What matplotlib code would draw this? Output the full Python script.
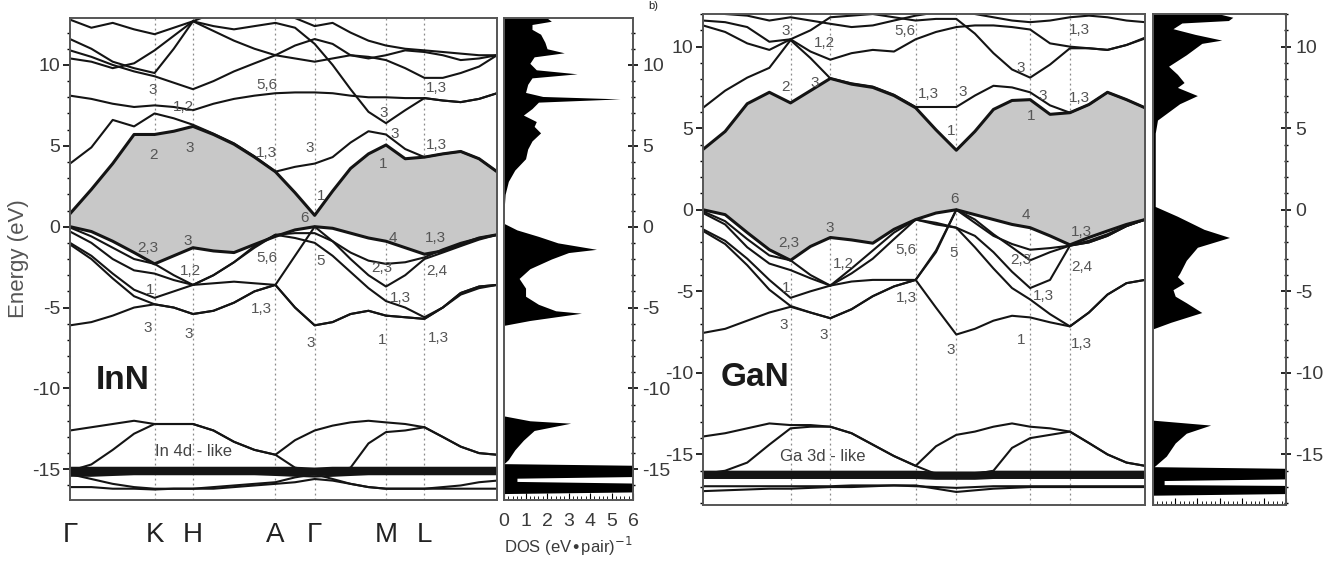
import matplotlib
matplotlib.use("Agg")
import matplotlib.pyplot as plt
from matplotlib import font_manager
from matplotlib.ticker import FixedLocator, MultipleLocator

names = {f.name for f in font_manager.fontManager.ttflist}
narrow = "Liberation Sans Narrow" if "Liberation Sans Narrow" in names else "Liberation Sans"
plt.rcParams["font.family"] = [narrow, "DejaVu Sans"]

# k path (fraction of the path length)
k = [0.0, 0.05, 0.10, 0.15, 0.198, 0.243, 0.288, 0.336, 0.384, 0.432, 0.481, 0.527,
     0.573, 0.615, 0.657, 0.699, 0.740, 0.785, 0.830, 0.873, 0.915, 0.958, 1.0]
sym_k = [0.0, 0.198, 0.288, 0.481, 0.573, 0.740, 0.830]
sym_labels = ["Γ", "K", "H", "A", "Γ", "M", "L"]

# ---- InN bands (eV) ----
inn_v1 = [0.0, -0.3, -0.9, -1.6, -2.3, -1.8, -1.3, -1.5, -1.6, -1.1, -0.6, -0.2, 0.0, -0.1, -0.4, -0.7, -0.9, -1.3, -1.7, -1.5, -1.1, -0.7, -0.5]
inn_v2 = [-0.05, -0.6, -1.3, -2.0, -2.3, -3.0, -3.6, -3.0, -2.2, -1.2, -0.5, -0.4, -0.4, -0.9, -1.6, -2.1, -2.3, -2.2, -1.9, -1.4, -1.0, -0.7, -0.5]
inn_v3 = [-0.3, -1.0, -2.0, -2.7, -2.9, -3.3, -3.6, -3.5, -3.4, -3.5, -3.6, -1.8, 0.0, -0.9, -2.0, -3.0, -3.7, -3.0, -2.0, -1.6, -1.2, -0.8, -0.5]
inn_v4 = [-1.0, -1.8, -2.9, -3.9, -4.4, -4.0, -3.6, -3.0, -2.2, -1.3, -0.5, -0.7, -1.0, -1.8, -2.8, -3.8, -4.6, -5.0, -5.6, -5.0, -4.2, -3.8, -3.6]
inn_v5 = [-6.1, -5.9, -5.5, -5.0, -4.8, -5.0, -5.4, -5.2, -4.7, -4.0, -3.6, -5.0, -6.1, -5.9, -5.4, -5.2, -5.5, -5.6, -5.7, -5.0, -4.1, -3.7, -3.6]
inn_v6 = [-1.1, -2.0, -3.2, -4.3, -4.8, -5.0, -5.4, -5.2, -4.7, -4.0, -3.6, -5.0, -6.1, -5.9, -5.4, -5.2, -5.5, -5.6, -5.7, -5.0, -4.1, -3.7, -3.6]
inn_c1 = [0.8, 2.3, 3.9, 5.7, 5.7, 5.9, 6.2, 5.7, 5.1, 4.3, 3.4, 2.1, 0.7, 2.2, 3.6, 4.5, 5.05, 4.2, 4.3, 4.5, 4.65, 4.2, 3.4]
inn_c2 = [3.9, 4.9, 6.6, 6.2, 7.0, 6.7, 6.3, 5.75, 5.15, 4.35, 3.4, 3.7, 3.9, 4.3, 5.2, 5.9, 5.7, 4.8, 4.3, 4.5, 4.65, 4.2, 3.4]
inn_c3 = [8.1, 7.9, 7.6, 7.4, 7.5, 7.4, 7.2, 7.6, 7.9, 8.1, 8.25, 8.3, 8.3, 8.25, 8.1, 8.0, 8.0, 7.95, 7.95, 7.8, 7.7, 7.9, 8.25]
inn_c4 = [10.9, 10.5, 10.0, 9.6, 9.3, 8.9, 8.5, 9.0, 9.6, 10.1, 10.6, 10.4, 10.2, 10.4, 10.6, 10.5, 10.3, 9.8, 9.2, 9.2, 9.5, 9.9, 10.6]
inn_c5 = [11.6, 11.0, 10.2, 9.8, 9.5, 11.0, 12.7, 12.1, 11.5, 11.0, 10.6, 11.2, 11.6, 11.3, 10.6, 10.4, 10.6, 10.9, 10.8, 10.6, 10.3, 10.4, 10.6]
inn_c6 = [10.4, 10.2, 9.8, 10.1, 10.9, 11.8, 12.7, 12.4, 12.2, 12.4, 12.6, 12.3, 11.3, 10.0, 8.5, 7.1, 6.4, 7.2, 7.95, 7.8, 7.7, 7.9, 8.25]
inn_c7 = [12.8, 12.3, 12.6, 12.2, 11.9, 12.3, 12.7, 13.2, 13.5, 13.5, 13.3, 12.9, 12.4, 12.6, 12.0, 11.5, 11.2, 11.0, 10.9, 10.8, 10.7, 10.6, 10.6]
inn_d1 = [-12.6, -12.4, -12.2, -12.0, -12.2, -12.2, -12.2, -12.6, -13.3, -13.8, -14.1, -13.2, -12.6, -12.3, -12.1, -12.0, -12.1, -12.2, -12.4, -13.0, -13.6, -14.0, -14.1]
inn_d2 = [-15.1, -14.7, -13.8, -12.8, -12.2, -12.2, -12.2, -12.6, -13.3, -13.8, -14.1, -14.9, -15.1, -15.1, -14.9, -13.4, -12.7, -12.6, -12.4, -13.0, -13.6, -14.0, -14.1]
inn_d3 = [-15.3, -15.6, -15.9, -16.1, -16.2, -16.2, -16.2, -16.1, -16.0, -15.9, -15.8, -15.5, -15.3, -15.6, -15.9, -16.1, -16.2, -16.2, -16.2, -16.1, -16.0, -15.8, -15.7]
inn_d4 = [-16.1, -16.1, -16.2, -16.2, -16.25, -16.2, -16.2, -16.2, -16.1, -16.0, -15.9, -15.8, -15.6, -15.7, -15.9, -16.1, -16.2, -16.2, -16.2, -16.2, -16.2, -16.2, -16.2]
inn_core = [-15.1, -15.1, -15.1, -15.1, -15.1, -15.1, -15.1, -15.1, -15.1, -15.1, -15.1, -15.1, -15.15, -15.1, -15.1, -15.1, -15.1, -15.1, -15.1, -15.1, -15.1, -15.1, -15.1]
inn_core2 = [-15.4, -15.4, -15.35, -15.3, -15.3, -15.3, -15.3, -15.3, -15.3, -15.3, -15.35, -15.4, -15.45, -15.4, -15.35, -15.3, -15.3, -15.3, -15.3, -15.3, -15.3, -15.3, -15.3]

inn_label_text = ["3", "1,2", "5,6", "2", "3", "1,3", "3", "1", "6", "3", "3", "1,3", "1,3", "1",
                  "2,3", "3", "1,2", "1", "5,6", "5", "4", "1,3", "2,3", "2,4", "1,3", "1,3",
                  "3", "3", "3", "1", "1,3"]
inn_label_k = [0.193, 0.265, 0.46, 0.195, 0.281, 0.46, 0.562, 0.589, 0.549, 0.734, 0.761, 0.859, 0.859, 0.734,
               0.183, 0.276, 0.281, 0.187, 0.46, 0.588, 0.757, 0.855, 0.73, 0.859, 0.773, 0.449,
               0.183, 0.279, 0.564, 0.73, 0.863]
inn_label_e = [8.45, 7.4, 8.75, 4.45, 4.85, 4.55, 4.85, 1.9, 0.55, 7.0, 5.7, 8.55, 5.05, 3.9,
               -1.3, -0.9, -2.75, -3.9, -1.95, -2.15, -0.7, -0.7, -2.55, -2.75, -4.4, -5.1,
               -6.25, -6.65, -7.2, -7.0, -6.9]

# ---- GaN bands (eV) ----
gan_v1 = [0.0, -0.3, -1.4, -2.45, -3.1, -2.25, -1.7, -1.85, -2.05, -1.2, -0.6, -0.2, 0.0, -0.3, -0.6, -0.9, -1.1, -1.6, -2.15, -1.7, -1.3, -0.9, -0.6]
gan_v2 = [-0.1, -0.7, -1.8, -2.8, -3.1, -4.0, -4.65, -3.6, -2.5, -1.4, -0.6, -0.8, -1.1, -1.6, -2.6, -3.8, -4.8, -4.3, -2.2, -2.0, -1.6, -1.0, -0.6]
gan_v3 = [-0.2, -0.9, -2.3, -3.3, -3.7, -4.2, -4.65, -4.4, -4.3, -4.3, -4.3, -2.5, 0.0, -0.8, -1.6, -2.1, -2.45, -2.35, -2.2, -1.9, -1.5, -1.0, -0.6]
gan_v4 = [-1.2, -1.9, -3.0, -4.3, -5.4, -5.0, -4.65, -3.9, -3.0, -1.8, -0.6, -0.9, -1.1, -2.3, -3.6, -4.8, -5.5, -6.4, -7.15, -6.3, -5.2, -4.5, -4.3]
gan_v5 = [-1.3, -2.1, -3.4, -4.9, -5.9, -6.3, -6.65, -6.1, -5.3, -4.7, -4.3, -6.0, -7.65, -7.3, -6.8, -6.5, -6.6, -6.9, -7.15, -6.3, -5.2, -4.5, -4.3]
gan_v6 = [-7.55, -7.3, -6.8, -6.3, -5.95, -6.3, -6.65, -6.1, -5.3, -4.7, -4.3, -2.6, 0.0, -0.6, -1.5, -2.3, -3.1, -2.6, -2.2, -2.0, -1.6, -1.0, -0.6]
gan_c1 = [3.7, 4.8, 6.5, 7.2, 6.55, 7.3, 8.05, 7.7, 7.5, 7.0, 6.25, 4.9, 3.65, 4.8, 6.15, 6.7, 6.75, 5.85, 5.95, 6.45, 7.2, 6.75, 6.25]
gan_c2 = [6.25, 7.3, 8.1, 8.7, 10.4, 9.3, 8.05, 7.75, 7.55, 7.05, 6.3, 6.3, 6.3, 7.0, 7.6, 7.5, 7.2, 6.4, 5.95, 6.45, 7.2, 6.75, 6.25]
gan_c3 = [11.3, 10.9, 10.2, 9.8, 10.45, 9.7, 9.2, 9.6, 9.8, 9.7, 10.45, 10.9, 11.2, 11.3, 11.3, 11.2, 11.05, 10.2, 10.0, 9.9, 9.8, 10.1, 10.55]
gan_c4 = [11.6, 11.5, 11.2, 10.3, 10.45, 11.0, 11.8, 11.9, 12.0, 11.8, 11.6, 11.7, 11.7, 10.8, 9.6, 8.6, 8.1, 8.9, 9.9, 9.9, 9.8, 10.1, 10.5]
gan_c5 = [12.2, 12.0, 11.9, 11.6, 11.8, 11.6, 11.4, 11.2, 11.3, 11.6, 11.9, 12.1, 12.2, 12.0, 11.8, 11.6, 11.5, 11.6, 11.8, 11.9, 11.8, 11.6, 11.5]
gan_d1 = [-13.9, -13.7, -13.4, -13.1, -13.2, -13.2, -13.3, -13.7, -14.4, -15.1, -15.7, -14.5, -13.8, -13.6, -13.3, -13.1, -13.3, -13.4, -13.6, -14.3, -15.0, -15.5, -15.7]
gan_d2 = [-16.2, -16.0, -15.5, -14.4, -13.4, -13.3, -13.3, -13.7, -14.4, -15.1, -15.7, -16.2, -16.25, -16.2, -16.0, -14.6, -14.0, -13.8, -13.6, -14.3, -15.0, -15.5, -15.7]
gan_d3 = [-17.25, -17.2, -17.15, -17.1, -17.1, -17.05, -17.0, -17.0, -16.95, -16.9, -16.9, -17.1, -17.3, -17.2, -17.1, -17.05, -17.0, -17.0, -17.0, -17.0, -17.0, -17.0, -17.0]
gan_d4 = [-16.95, -16.95, -16.95, -16.95, -16.95, -16.95, -16.95, -16.9, -16.9, -16.9, -16.95, -17.0, -17.05, -17.0, -16.95, -16.95, -16.95, -16.95, -16.95, -16.95, -16.95, -16.95, -16.95]
gan_core = [-16.25, -16.25, -16.25, -16.25, -16.25, -16.25, -16.25, -16.25, -16.25, -16.25, -16.25, -16.3, -16.3, -16.3, -16.25, -16.25, -16.25, -16.25, -16.25, -16.25, -16.25, -16.25, -16.25]

gan_label_text = ["3", "1,2", "5,6", "1,3", "2", "3", "1,3", "3", "3", "3", "1,3", "1", "1", "6", "4",
                  "2,3", "3", "1,2", "1", "5,6", "5", "1,3", "2,3", "2,4", "1,3", "1,3",
                  "3", "3", "3", "1", "1,3"]
gan_label_k = [0.186, 0.274, 0.456, 0.852, 0.186, 0.253, 0.509, 0.588, 0.719, 0.769, 0.852, 0.562, 0.743, 0.569, 0.731,
               0.194, 0.287, 0.317, 0.189, 0.46, 0.566, 0.856, 0.72, 0.856, 0.769, 0.46,
               0.183, 0.274, 0.56, 0.719, 0.856]
gan_label_e = [10.95, 10.25, 10.95, 11.05, 7.5, 7.8, 7.1, 7.2, 8.7, 7.0, 6.85, 4.8, 5.75, 0.65, -0.3,
               -2.05, -1.1, -3.3, -4.8, -2.45, -2.65, -1.35, -3.05, -3.5, -5.3, -5.4,
               -7.05, -7.65, -8.6, -8.0, -8.2]

# ---- DOS (states / eV pair) ----
inn_dos_e = [12.9, 12.7, 12.5, 12.2, 11.9, 11.4, 11.0, 10.75, 10.5, 10.1, 9.7, 9.45, 9.2, 8.8, 8.3, 8.05,
             7.9, 7.7, 7.3, 6.9, 6.5, 6.2, 5.8, 5.3, 4.8, 4.2, 3.5, 2.8, 2.0, 1.0, 0.2, -0.2, -0.6, -1.0,
             -1.4, -1.6, -2.0, -2.6, -3.2, -3.8, -4.3, -4.8, -5.2, -5.35, -5.8, -6.1, -11.7, -12.0,
             -12.15, -12.6, -13.2, -13.8, -14.4, -14.65, -14.75, -15.45, -15.55, -15.75, -15.85, -16.4,
             -16.5, -16.9]
inn_dos = [2.0, 2.2, 1.3, 1.3, 1.7, 1.9, 2.0, 2.8, 1.4, 1.2, 1.5, 3.4, 1.3, 1.1, 1.0, 1.8,
           5.4, 1.6, 1.3, 0.9, 1.5, 1.4, 1.7, 1.3, 1.1, 1.0, 0.5, 0.2, 0.05, 0.0, 0.0, 0.6, 1.6, 2.5,
           4.3, 3.0, 2.2, 1.2, 0.7, 1.0, 1.0, 1.6, 2.4, 3.6, 1.2, 0.0, 0.0, 1.2,
           3.1, 1.4, 0.9, 0.5, 0.2, 0.0, 6.0, 6.0, 0.6, 0.6, 6.0, 6.0,
           0.0, 0.0]
gan_dos_e = [12.0, 11.8, 11.6, 11.45, 11.1, 10.75, 10.4, 10.2, 10.0, 9.5, 8.8, 8.3, 7.8, 7.5, 7.0, 6.5,
             5.9, 5.5, 4.7, 0.2, -0.4, -1.2, -1.7, -2.3, -3.1, -3.9, -4.1, -4.5, -4.9, -5.3, -5.7, -6.3,
             -6.9, -7.3, -12.9, -13.2, -13.7, -14.3, -15.1, -15.75, -15.85, -16.5, -16.6, -16.85, -16.9,
             -17.4, -17.5, -18.1]
gan_dos = [3.0, 3.6, 3.4, 1.3, 0.9, 1.9, 3.1, 2.2, 2.0, 1.5, 0.7, 1.1, 1.4, 1.1, 2.0, 1.2,
           0.6, 0.2, 0.1, 0.1, 1.1, 2.3, 3.45, 2.0, 1.5, 1.2, 1.1, 1.4, 0.9, 1.0, 1.5, 2.2,
           0.8, 0.0, 0.0, 2.6, 1.5, 1.0, 0.6, 0.05, 6.0, 6.0, 0.5, 0.5, 6.0,
           6.0, 0.0, 0.0]

inn_bands = [inn_v2, inn_v3, inn_v4, inn_v5, inn_v6, inn_c2, inn_c3, inn_c4, inn_c5, inn_c6, inn_c7,
             inn_d1, inn_d2, inn_d3, inn_d4, inn_core2]
gan_bands = [gan_v2, gan_v3, gan_v4, gan_v5, gan_v6, gan_c2, gan_c3, gan_c4, gan_c5,
             gan_d1, gan_d2, gan_d3, gan_d4]

TXT = "#3a3a3a"
LINE = "#141414"
GRAY = "#c8c8c8"

fig = plt.figure(figsize=(13.31, 5.65), dpi=100)


def band_panel(rect, vtop, cbot, others, core, ylim, lab_t, lab_k, lab_e, name, name_pos, dlabel, dlabel_pos, show_k):
    ax = fig.add_axes(rect)
    ax.fill_between(k, vtop, cbot, color=GRAY, lw=0)
    for b in others:
        ax.plot(k, b, color=LINE, lw=1.5)
    ax.plot(k, vtop, color=LINE, lw=2.2)
    ax.plot(k, cbot, color=LINE, lw=2.2)
    ax.plot(k, core, color=LINE, lw=6)
    for xv in sym_k[1:]:
        ax.axvline(xv, color="#8a8a8a", lw=0.9, ls=(0, (1.5, 2.5)), zorder=0.5)
    for t, kk, ee in zip(lab_t, lab_k, lab_e):
        ax.text(kk, ee, t, fontsize=11, color="#555555", ha="center", va="center")
    ax.text(name_pos[0], name_pos[1], name, fontsize=24, fontweight="bold", color="#1a1a1a", va="center")
    ax.text(dlabel_pos[0], dlabel_pos[1], dlabel, fontsize=12, color="#444444", ha="center", va="center")
    ax.set_xlim(0, 1)
    ax.set_ylim(*ylim)
    ax.yaxis.set_major_locator(FixedLocator([-15, -10, -5, 0, 5, 10]))
    ax.set_yticklabels(["-15", "-10", "-5", "0", "5", "10"])
    ax.yaxis.set_minor_locator(MultipleLocator(1))
    ax.tick_params(axis="y", which="major", direction="out", length=5, width=1.2, labelsize=14, labelcolor=TXT, pad=2)
    ax.tick_params(axis="y", which="minor", direction="out", length=2.5, width=1.0)
    ax.set_xticks(sym_k if show_k else [])
    if show_k:
        ax.set_xticklabels(sym_labels)
    ax.tick_params(axis="x", length=0, labelsize=20, labelcolor="#222222", pad=16)
    for s in ax.spines.values():
        s.set_color("#555555")
        s.set_linewidth(1.4)
    return ax


def dos_panel(rect, es, vals, ylim, show_x):
    ax = fig.add_axes(rect)
    ax.fill_betweenx(es, 0, vals, color="black", lw=0)
    ax.set_xlim(0, 6)
    ax.set_ylim(*ylim)
    ax.yaxis.tick_right()
    ax.yaxis.set_major_locator(FixedLocator([-15, -10, -5, 0, 5, 10]))
    ax.set_yticklabels(["-15", "-10", "-5", "0", "5", "10"])
    ax.yaxis.set_minor_locator(MultipleLocator(1))
    ax.tick_params(axis="y", which="major", direction="inout", length=7, width=1.2, labelsize=14, labelcolor=TXT, pad=3)
    ax.tick_params(axis="y", which="minor", direction="inout", length=3, width=1.0)
    ax.xaxis.set_major_locator(MultipleLocator(1))
    ax.xaxis.set_minor_locator(MultipleLocator(0.2))
    ax.tick_params(axis="x", which="major", direction="in", length=5, labelsize=14, labelcolor=TXT, pad=9)
    ax.tick_params(axis="x", which="minor", direction="in", length=3)
    if not show_x:
        ax.set_xticklabels([])
    for s in ax.spines.values():
        s.set_color("#555555")
        s.set_linewidth(1.4)
    return ax


ax1 = band_panel([0.0526, 0.1150, 0.3208, 0.8531], inn_v1, inn_c1, inn_bands, inn_core, (-16.9, 12.9),
                 inn_label_text, inn_label_k, inn_label_e, "InN", (0.06, -9.5), "In 4d - like", (0.29, -13.9), True)
ax1.set_ylabel("Energy (eV)", fontsize=16, color="#555555", labelpad=2)

ax2 = dos_panel([0.3787, 0.1150, 0.0969, 0.8531], inn_dos_e, inn_dos, (-16.9, 12.9), True)
ax2.set_xlabel(r"DOS (eV$\bullet$pair)$^{-1}$", fontsize=12, color=TXT, labelpad=4)

ax3 = band_panel([0.5282, 0.1062, 0.3321, 0.8690], gan_v1, gan_c1, gan_bands, gan_core, (-18.1, 12.0),
                 gan_label_text, gan_label_k, gan_label_e, "GaN", (0.04, -10.3), "Ga 3d - like", (0.27, -15.15), False)

ax4 = dos_panel([0.8663, 0.1062, 0.0999, 0.8690], gan_dos_e, gan_dos, (-18.1, 12.0), False)

fig.text(0.491, 0.998, "b)", fontsize=8, color="#222222", ha="center", va="top")

fig.savefig("out.png", dpi=100)
